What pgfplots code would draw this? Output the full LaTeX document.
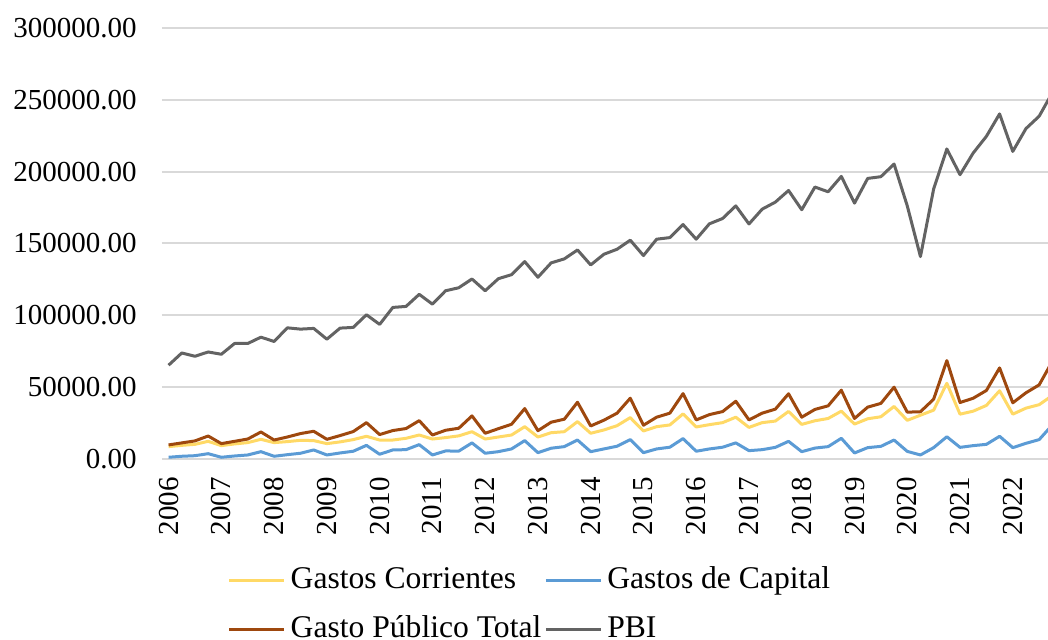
\documentclass[border=0pt]{standalone}
\usepackage{fontspec}
\setmainfont{Liberation Serif}
\usepackage{pgfplots}
\usepackage{pgfplotstable}
\pgfplotsset{compat=1.18}
\definecolor{cgc}{RGB}{255,217,102}
\definecolor{cgk}{RGB}{91,155,213}
\definecolor{cgt}{RGB}{158,72,14}
\definecolor{cpbi}{RGB}{99,99,99}
\definecolor{cgrid}{RGB}{217,217,217}
\pgfplotstableread{
idx gc gk gt pbi
0 8600 1200 9800 65300
1 9500 1900 11200 73800
2 10200 2300 12600 71500
3 12300 3700 16000 74500
4 9300 1200 10700 72900
5 10500 2100 12300 80400
6 11400 2800 13900 80400
7 13700 5100 18800 84800
8 11400 1900 13200 81800
9 12100 3000 15300 91300
10 13000 4000 17700 90400
11 12800 6300 19300 90900
12 10700 2800 13700 83400
13 11900 4200 16300 91100
14 13500 5400 19100 91600
15 15800 9500 25300 100400
16 13200 3300 17000 93700
17 13200 6300 19800 105500
18 14400 6500 21200 106200
19 16700 10000 26700 114600
20 13900 2800 16700 107800
21 14900 5600 20000 117100
22 16100 5500 21400 119200
23 19000 11200 30000 125300
24 13900 4000 17900 117100
25 15300 5100 21100 125500
26 16700 7000 24200 128300
27 22500 12800 35100 137400
28 15300 4400 19700 126500
29 18300 7500 25600 136500
30 19000 8600 27700 139300
31 26000 13200 39500 145500
32 17900 5100 23000 135100
33 20200 7000 27000 142500
34 23200 8900 31900 146000
35 28800 13500 42300 152300
36 19500 4400 23500 141600
37 22500 7000 29100 153000
38 23700 8200 31900 154100
39 31400 14200 45500 163200
40 22300 5400 27200 153000
41 23900 7000 30900 163700
42 25300 8200 33000 167400
43 29100 11200 40200 176200
44 22000 5800 27200 163600
45 25300 6500 31900 173900
46 26400 8100 34700 178800
47 33100 12300 45400 186900
48 24100 5100 29100 173500
49 26600 7600 34500 189300
50 28200 8600 37000 186000
51 33300 14400 47900 196700
52 24300 4200 28200 178100
53 28000 7900 36100 195300
54 29400 8800 38700 196500
55 36600 13200 50000 205300
56 26900 5300 32600 176200
57 30500 2800 32900 140900
58 34000 7900 41600 187900
59 52700 15500 68500 215800
60 31200 8100 39300 197900
61 33300 9300 42300 213000
62 37300 10200 47700 224600
63 47500 15800 63400 240200
64 31200 7900 39100 214100
65 35400 10900 46100 230000
66 37800 13500 51600 238600
67 44200 23700 68000 255000
}\datatable
\begin{document}
\begin{tikzpicture}
\begin{axis}[
  at={(0pt,0pt)}, anchor=south west,
  scale only axis,
  width=443pt, height=215.5pt,
  xmin=-0.5, xmax=66.67,
  ymin=0, ymax=300000,
  scaled y ticks=false,
  scaled x ticks=false,
  axis line style={draw=none},
  major tick length=0pt,
  ymajorgrids,
  grid style={cgrid, line width=1pt},
  ytick={0,50000,100000,150000,200000,250000,300000},
  yticklabels={0.00,50000.00,100000.00,150000.00,200000.00,250000.00,300000.00},
  yticklabel style={anchor=east, inner sep=0pt, xshift=-12.5pt, font=\fontsize{14.5}{17}\selectfont},
  xtick={0,4,...,64},
  xticklabels={2006,2007,2008,2009,2010,2011,2012,2013,2014,2015,2016,2017,2018,2019,2020,2021,2022},
  xticklabel style={rotate=90, anchor=east, inner sep=0pt, xshift=-9pt, font=\fontsize{14.5}{17}\selectfont},
  legend columns=2,
  legend image code/.code={\draw[#1] (0pt,0pt) -- (27.5pt,0pt);},
  legend style={at={(axis description cs:0.4142,-0.3387)}, anchor=center,
    draw=none, fill=none, font=\fontsize{15.8}{19}\selectfont,
    nodes={inner sep=0pt, text height=11pt, text depth=3pt},
    row sep=10.5pt,
    /tikz/every odd column/.append style={column sep=2.5pt},
    /tikz/every even column/.append style={column sep=1.5pt},
    cells={anchor=west}},
  every axis plot/.append style={line width=1.5pt, line join=round},
]
\addplot[cgc, mark=none] table[x=idx, y=gc] {\datatable};
\addlegendentry{Gastos Corrientes}
\addplot[cgk, mark=none] table[x=idx, y=gk] {\datatable};
\addlegendentry{Gastos de Capital}
\addplot[cgt, mark=none] table[x=idx, y=gt] {\datatable};
\addlegendentry{Gasto Público Total}
\addplot[cpbi, mark=none] table[x=idx, y=pbi] {\datatable};
\addlegendentry{PBI}
\end{axis}
\pgfresetboundingbox
\path (-81pt,-90.5pt) rectangle (443pt,229.5pt);
\end{tikzpicture}
\end{document}
